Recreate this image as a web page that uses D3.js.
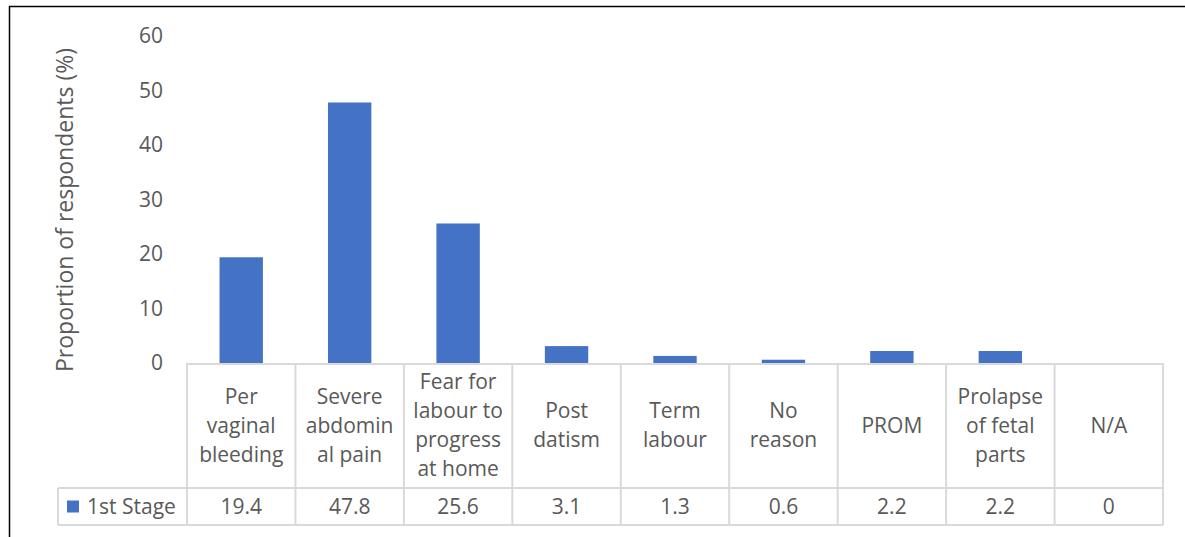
<!DOCTYPE html>
<html>
<head>
<meta charset="utf-8">
<script src="https://cdn.jsdelivr.net/npm/d3@7"></script>
<style>
    body { margin: 0; background: #fff; }
    svg text { font-family: "Open Sans", Lato, sans-serif; fill: #595959; }
</style>
</head>
<body>
<div id="chart"></div>
<script>
/******************************************************
 * Chart data
*******************************************************/
const CATEGORIES = [
    "Per\nvaginal\nbleeding",
    "Severe\nabdomin\nal pain",
    "Fear for\nlabour to\nprogress\nat home",
    "Post\ndatism",
    "Term\nlabour",
    "No\nreason",
    "PROM",
    "Prolapse\nof fetal\nparts",
    "N/A"
];
const VALUES = [19.4, 47.8, 25.6, 3.1, 1.3, 0.6, 2.2, 2.2, 0];
const SERIES_NAME = "1st Stage";
const Y_TICKS = [0, 10, 20, 30, 40, 50, 60];
const Y_TITLE = "Proportion of respondents (%)";

//! CONSTANTS
const WIDTH = 1185;
const HEIGHT = 537;
const BAR_COLOR = "#4472C4";
const GRID_COLOR = "#d9d9d9";
const FONT = "'Open Sans', Lato, sans-serif";
const FONT_SIZE = 21;
const LINE_HEIGHT = 29;

const PLOT = { left: 187, right: 1163, top: 36, bottom: 363 };
const HEADER_BOTTOM = 488;
const TABLE_BOTTOM = 525;
const LEGEND_LEFT = 58;

/******************************************************
 * Draw
*******************************************************/
const svg = d3.select("#chart").append("svg")
    .attr("width", WIDTH)
    .attr("height", HEIGHT);

// Outer frame (only top and left visible)
svg.append("line").attr("x1", 9).attr("x2", WIDTH).attr("y1", 6.5).attr("y2", 6.5)
    .style("stroke", "#000").style("stroke-width", 1.5);
svg.append("line").attr("x1", 9.5).attr("x2", 9.5).attr("y1", 6).attr("y2", HEIGHT)
    .style("stroke", "#000").style("stroke-width", 1.5);

const x = d3.scaleBand()
    .domain(d3.range(CATEGORIES.length))
    .range([PLOT.left, PLOT.right])
    .paddingInner(0).paddingOuter(0);

const y = d3.scaleLinear()
    .domain([0, 60])
    .range([PLOT.bottom, PLOT.top]);

const barWidth = x.bandwidth() * 0.4;

// Bars
svg.selectAll("rect.bar")
    .data(VALUES)
    .enter().append("rect")
    .attr("class", "bar")
    .attr("x", (d, i) => x(i) + (x.bandwidth() - barWidth) / 2)
    .attr("width", barWidth)
    .attr("y", d => y(d))
    .attr("height", d => y(0) - y(d))
    .style("fill", BAR_COLOR);

// Y axis tick labels
const yAxis = d3.axisLeft(y).tickValues(Y_TICKS).tickSize(0).tickPadding(0);
const yG = svg.append("g")
    .attr("transform", `translate(${PLOT.left - 24},0)`)
    .call(yAxis);
yG.select(".domain").remove();
yG.selectAll("text")
    .style("font-size", FONT_SIZE + "px")
    .style("font-family", FONT)
    .attr("fill", "#595959");

// Y axis title
svg.append("text")
    .attr("transform", `translate(73,210) rotate(-90)`)
    .attr("text-anchor", "middle")
    .style("font-size", "23px")
    .text(Y_TITLE);

// Data table grid
const grid = svg.append("g").style("stroke", GRID_COLOR).style("stroke-width", 2);
grid.append("line").attr("x1", PLOT.left).attr("x2", PLOT.right)
    .attr("y1", PLOT.bottom + 1).attr("y2", PLOT.bottom + 1);
grid.append("line").attr("x1", LEGEND_LEFT).attr("x2", PLOT.right)
    .attr("y1", HEADER_BOTTOM).attr("y2", HEADER_BOTTOM);
grid.append("line").attr("x1", LEGEND_LEFT).attr("x2", PLOT.right)
    .attr("y1", TABLE_BOTTOM).attr("y2", TABLE_BOTTOM);
grid.append("line").attr("x1", LEGEND_LEFT).attr("x2", LEGEND_LEFT)
    .attr("y1", HEADER_BOTTOM).attr("y2", TABLE_BOTTOM);
grid.selectAll("line.col")
    .data(d3.range(CATEGORIES.length + 1))
    .enter().append("line")
    .attr("class", "col")
    .attr("x1", i => i < CATEGORIES.length ? x(i) : PLOT.right)
    .attr("x2", i => i < CATEGORIES.length ? x(i) : PLOT.right)
    .attr("y1", PLOT.bottom)
    .attr("y2", TABLE_BOTTOM);

// Category labels
const headerMid = (PLOT.bottom + HEADER_BOTTOM) / 2;
const catG = svg.selectAll("text.cat")
    .data(CATEGORIES)
    .enter().append("text")
    .attr("class", "cat")
    .attr("text-anchor", "middle")
    .style("font-size", FONT_SIZE + "px");
catG.each(function (d, i) {
    const lines = d.split("\n");
    const startY = headerMid - (lines.length - 1) * LINE_HEIGHT / 2;
    d3.select(this).selectAll("tspan")
        .data(lines)
        .enter().append("tspan")
        .attr("x", x(i) + x.bandwidth() / 2)
        .attr("y", (l, j) => startY + j * LINE_HEIGHT)
        .attr("dy", "0.35em")
        .text(l => l);
});

// Values row
const rowMid = (HEADER_BOTTOM + TABLE_BOTTOM) / 2;
svg.selectAll("text.val")
    .data(VALUES)
    .enter().append("text")
    .attr("class", "val")
    .attr("x", (d, i) => x(i) + x.bandwidth() / 2)
    .attr("y", rowMid)
    .attr("dy", "0.35em")
    .attr("text-anchor", "middle")
    .style("font-size", FONT_SIZE + "px")
    .text(d => d);

// Legend key
svg.append("rect")
    .attr("x", 67).attr("y", rowMid - 6)
    .attr("width", 12).attr("height", 12)
    .style("fill", BAR_COLOR);
svg.append("text")
    .attr("x", 87).attr("y", rowMid)
    .attr("dy", "0.35em")
    .style("font-size", FONT_SIZE + "px")
    .text(SERIES_NAME);
</script>
</body>
</html>
